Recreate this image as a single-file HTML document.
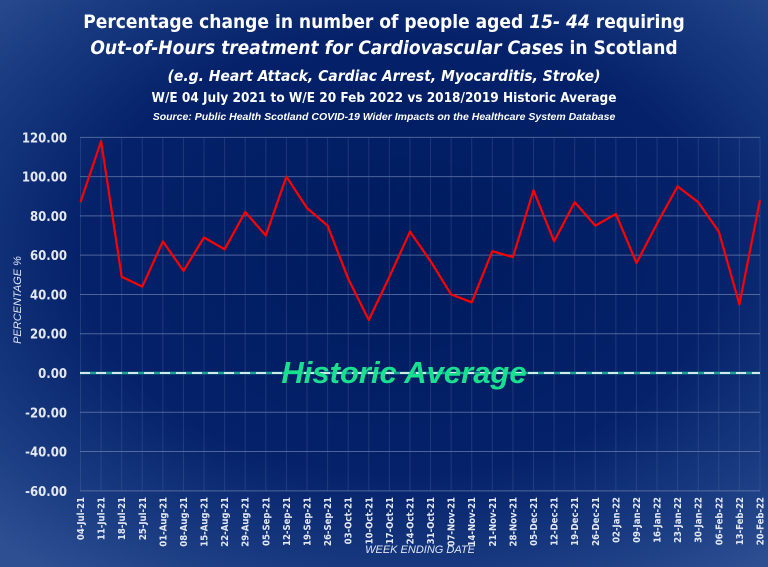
<!DOCTYPE html>
<html><head><meta charset="utf-8"><style>
html,body{margin:0;padding:0;width:768px;height:567px;overflow:hidden}
body{background:radial-gradient(ellipse 75% 70% at 52% 45%,#001b5e 0%,#04216a 55%,#1d3f84 85%,#2e4f92 100%);font-family:"Liberation Sans",sans-serif}
</style></head><body>
<svg id="s" width="768" height="567" xmlns="http://www.w3.org/2000/svg" style="position:absolute;left:0;top:0">
<g font-family="DejaVu Sans Condensed, Liberation Sans, sans-serif" fill="#fff" text-anchor="middle" font-weight="bold">
<text x="384" y="28" font-size="19">Percentage change in number of people aged <tspan font-style="italic">15- 44</tspan> requiring</text>
<text x="384" y="54" font-size="19"><tspan font-style="italic">Out-of-Hours treatment for Cardiovascular Cases</tspan> in Scotland</text>
<text x="384" y="81" font-size="15.5" font-style="italic">(e.g. Heart Attack, Cardiac Arrest, Myocarditis, Stroke)</text>
<text x="384" y="102" font-size="13.5">W/E 04 July 2021 to W/E 20 Feb 2022 vs 2018/2019 Historic Average</text>
<text x="384" y="120" font-size="10.5" font-style="italic" font-family="Liberation Sans, sans-serif">Source: Public Health Scotland COVID-19 Wider Impacts on the Healthcare System Database</text>
</g>
<g id="grid"></g>
<text x="21" y="300" transform="rotate(-90 21 300)" fill="#dfe6f5" font-size="11" font-style="italic" text-anchor="middle" font-family="Liberation Sans, sans-serif">PERCENTAGE %</text>
<text x="420" y="553" fill="#dfe6f5" font-size="11" font-style="italic" text-anchor="middle" font-family="Liberation Sans, sans-serif">WEEK ENDING DATE</text>
<line x1="80" y1="373" x2="760" y2="373" stroke="#1aa39a" stroke-width="2.5"/>
<line x1="80" y1="373" x2="760" y2="373" stroke="#cfe8e8" stroke-width="2" stroke-dasharray="10,6"/>
<polyline id="pl" fill="none" stroke="#ff0000" stroke-width="2.2" stroke-linejoin="round"/>
<text x="404" y="383" fill="#19e08f" font-size="31" font-weight="bold" font-style="italic" text-anchor="middle" font-family="Liberation Sans, sans-serif">Historic Average</text>
</svg>
<script>
var ns="http://www.w3.org/2000/svg",g=document.getElementById('grid');
function Y(v){return 373-v*1.964}
var x0=80.5,st=(760-80.5)/33;
function el(t,a,tx){var e=document.createElementNS(ns,t);for(var k in a)e.setAttribute(k,a[k]);if(tx)e.textContent=tx;g.appendChild(e);return e}
for(var v=-60;v<=120;v+=20){el('line',{x1:80,x2:760,y1:Y(v),y2:Y(v),stroke:'#8a9bc4','stroke-width':1,opacity:.55});
el('text',{x:67,y:Y(v)+5,fill:'#e3e8f3','font-size':13,'font-weight':'bold','text-anchor':'end','font-family':'DejaVu Sans Condensed, Liberation Sans, sans-serif'},v.toFixed(2));}
var d=["04-Jul-21","11-Jul-21","18-Jul-21","25-Jul-21","01-Aug-21","08-Aug-21","15-Aug-21","22-Aug-21","29-Aug-21","05-Sep-21","12-Sep-21","19-Sep-21","26-Sep-21","03-Oct-21","10-Oct-21","17-Oct-21","24-Oct-21","31-Oct-21","07-Nov-21","14-Nov-21","21-Nov-21","28-Nov-21","05-Dec-21","12-Dec-21","19-Dec-21","26-Dec-21","02-Jan-22","09-Jan-22","16-Jan-22","23-Jan-22","30-Jan-22","06-Feb-22","13-Feb-22","20-Feb-22"];
var vals=[87,118,49,44,67,52,69,63,82,70,100,84,75,48,27,49,72,57,40,36,62,59,93,67,87,75,81,56,76,95,87,72,35,88];
var p=[];
for(var i=0;i<34;i++){var x=x0+i*st;
el('line',{x1:x,x2:x,y1:Y(120),y2:Y(-60),stroke:'#5a6fa8','stroke-width':1,opacity:.3});
el('text',{x:0,y:0,fill:'#e3e8f3','font-size':9.5,'font-weight':'bold','text-anchor':'end','font-family':'DejaVu Sans Condensed, Liberation Sans, sans-serif',transform:'translate('+(x+3.5)+',497) rotate(-90)'},d[i]);
p.push(x.toFixed(1)+','+Y(vals[i]).toFixed(1));}
document.getElementById('pl').setAttribute('points',p.join(' '));
</script>
</body></html>
